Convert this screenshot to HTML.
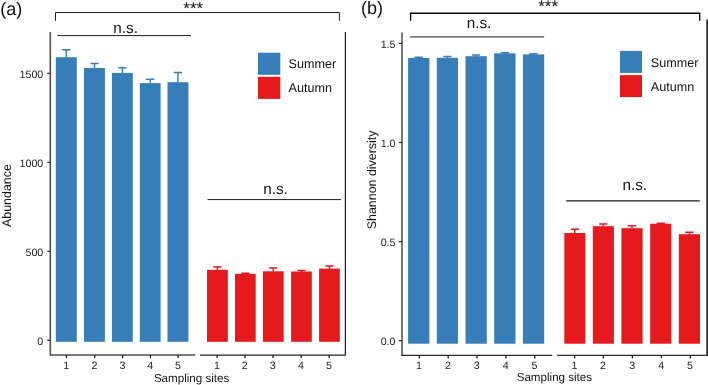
<!DOCTYPE html>
<html><head><meta charset="utf-8"><title>Figure</title>
<style>
html,body{margin:0;padding:0;background:#fff;}
svg{display:block;will-change:transform}
text{font-family:"Liberation Sans",Arial,sans-serif;fill:#111;text-rendering:geometricPrecision}
.tk{font-size:10.7px;fill:#222}
.tt{font-size:12.45px}
.tx{font-size:11.6px}
.ns{font-size:15.3px}
.st{font-size:17px}
.pl{font-size:18px}
.lg{font-size:12.6px}
</style></head><body>
<svg width="708" height="385" viewBox="0 0 708 385">
<rect width="708" height="385" fill="#fff"/>
<rect x="55.8" y="57.2" width="21.0" height="284.6" fill="#377EB8"/>
<path d="M66.3 57.7V49.7M62.2 49.7H70.4" stroke="#377EB8" stroke-width="1.5" fill="none"/>
<rect x="84.0" y="68.0" width="20.9" height="273.8" fill="#377EB8"/>
<path d="M94.5 68.5V63.4M90.4 63.4H98.5" stroke="#377EB8" stroke-width="1.5" fill="none"/>
<rect x="111.9" y="72.9" width="20.9" height="268.9" fill="#377EB8"/>
<path d="M122.4 73.4V67.7M118.3 67.7H126.5" stroke="#377EB8" stroke-width="1.5" fill="none"/>
<rect x="139.8" y="83.1" width="20.8" height="258.7" fill="#377EB8"/>
<path d="M150.2 83.6V79.3M146.1 79.3H154.3" stroke="#377EB8" stroke-width="1.5" fill="none"/>
<rect x="167.5" y="82.2" width="20.9" height="259.6" fill="#377EB8"/>
<path d="M177.9 82.7V72.5M173.8 72.5H182.0" stroke="#377EB8" stroke-width="1.5" fill="none"/>
<rect x="207.0" y="269.8" width="20.8" height="72.0" fill="#E41A1C"/>
<path d="M217.4 270.3V267.1M213.3 267.1H221.5" stroke="#E41A1C" stroke-width="1.5" fill="none"/>
<rect x="235.0" y="273.9" width="20.7" height="67.9" fill="#E41A1C"/>
<path d="M245.3 274.4V273.2M241.2 273.2H249.4" stroke="#E41A1C" stroke-width="1.5" fill="none"/>
<rect x="262.9" y="271.3" width="20.8" height="70.5" fill="#E41A1C"/>
<path d="M273.3 271.8V268.1M269.2 268.1H277.4" stroke="#E41A1C" stroke-width="1.5" fill="none"/>
<rect x="291.1" y="271.5" width="20.7" height="70.3" fill="#E41A1C"/>
<path d="M301.5 272.0V270.5M297.4 270.5H305.6" stroke="#E41A1C" stroke-width="1.5" fill="none"/>
<rect x="319.1" y="268.6" width="20.7" height="73.2" fill="#E41A1C"/>
<path d="M329.5 269.1V266.0M325.4 266.0H333.6" stroke="#E41A1C" stroke-width="1.5" fill="none"/>
<rect x="408.1" y="58.0" width="21.3" height="285.7" fill="#377EB8"/>
<path d="M418.8 58.5V57.3M414.6 57.3H422.9" stroke="#377EB8" stroke-width="1.5" fill="none"/>
<rect x="436.8" y="57.8" width="21.2" height="285.9" fill="#377EB8"/>
<path d="M447.4 58.3V56.4M443.3 56.4H451.5" stroke="#377EB8" stroke-width="1.5" fill="none"/>
<rect x="465.5" y="56.2" width="21.3" height="287.5" fill="#377EB8"/>
<path d="M476.1 56.7V55.1M472.0 55.1H480.2" stroke="#377EB8" stroke-width="1.5" fill="none"/>
<rect x="494.2" y="53.3" width="21.3" height="290.4" fill="#377EB8"/>
<path d="M504.9 53.8V52.8M500.8 52.8H509.0" stroke="#377EB8" stroke-width="1.5" fill="none"/>
<rect x="522.9" y="54.4" width="21.3" height="289.3" fill="#377EB8"/>
<path d="M533.5 54.9V53.8M529.4 53.8H537.6" stroke="#377EB8" stroke-width="1.5" fill="none"/>
<rect x="564.3" y="233.0" width="21.1" height="110.7" fill="#E41A1C"/>
<path d="M574.8 233.5V229.3M570.7 229.3H578.9" stroke="#E41A1C" stroke-width="1.5" fill="none"/>
<rect x="592.8" y="226.2" width="21.1" height="117.5" fill="#E41A1C"/>
<path d="M603.3 226.7V224.1M599.2 224.1H607.4" stroke="#E41A1C" stroke-width="1.5" fill="none"/>
<rect x="621.4" y="228.2" width="21.2" height="115.5" fill="#E41A1C"/>
<path d="M632.0 228.7V225.8M627.9 225.8H636.1" stroke="#E41A1C" stroke-width="1.5" fill="none"/>
<rect x="650.2" y="223.7" width="21.1" height="120.0" fill="#E41A1C"/>
<path d="M660.8 224.2V223.2M656.6 223.2H664.9" stroke="#E41A1C" stroke-width="1.5" fill="none"/>
<rect x="678.8" y="234.2" width="21.2" height="109.5" fill="#E41A1C"/>
<path d="M689.4 234.7V232.3M685.3 232.3H693.5" stroke="#E41A1C" stroke-width="1.5" fill="none"/>
<path d="M50.3 32V355H195.3" stroke="#505050" stroke-width="1.6" fill="none"/>
<path d="M200 355.2H345.4V32" stroke="#222" stroke-width="1.25" fill="none"/>
<path d="M47.3 340.3H50.3" stroke="#222" stroke-width="1.2"/>
<text x="43.3" y="344.9" text-anchor="end" class="tk">0</text>
<path d="M47.3 251.3H50.3" stroke="#222" stroke-width="1.2"/>
<text x="43.3" y="255.9" text-anchor="end" class="tk">500</text>
<path d="M47.3 162.3H50.3" stroke="#222" stroke-width="1.2"/>
<text x="43.3" y="166.9" text-anchor="end" class="tk">1000</text>
<path d="M47.3 73.3H50.3" stroke="#222" stroke-width="1.2"/>
<text x="43.3" y="77.9" text-anchor="end" class="tk">1500</text>
<path d="M66.5 355V358.1" stroke="#1a1a1a" stroke-width="1.3"/>
<text x="66.3" y="369.2" text-anchor="middle" class="tk">1</text>
<path d="M94.7 355V358.1" stroke="#1a1a1a" stroke-width="1.3"/>
<text x="94.5" y="369.2" text-anchor="middle" class="tk">2</text>
<path d="M122.6 355V358.1" stroke="#1a1a1a" stroke-width="1.3"/>
<text x="122.4" y="369.2" text-anchor="middle" class="tk">3</text>
<path d="M150.4 355V358.1" stroke="#1a1a1a" stroke-width="1.3"/>
<text x="150.2" y="369.2" text-anchor="middle" class="tk">4</text>
<path d="M178.1 355V358.1" stroke="#1a1a1a" stroke-width="1.3"/>
<text x="177.9" y="369.2" text-anchor="middle" class="tk">5</text>
<path d="M217.1 355V358.1" stroke="#1a1a1a" stroke-width="1.3"/>
<text x="216.9" y="369.2" text-anchor="middle" class="tk">1</text>
<path d="M245.0 355V358.1" stroke="#1a1a1a" stroke-width="1.3"/>
<text x="244.8" y="369.2" text-anchor="middle" class="tk">2</text>
<path d="M273.0 355V358.1" stroke="#1a1a1a" stroke-width="1.3"/>
<text x="272.8" y="369.2" text-anchor="middle" class="tk">3</text>
<path d="M301.2 355V358.1" stroke="#1a1a1a" stroke-width="1.3"/>
<text x="301.0" y="369.2" text-anchor="middle" class="tk">4</text>
<path d="M329.2 355V358.1" stroke="#1a1a1a" stroke-width="1.3"/>
<text x="329.0" y="369.2" text-anchor="middle" class="tk">5</text>
<text x="191.6" y="381.8" text-anchor="middle" class="tx">Sampling sites</text>
<text transform="translate(11.4 195.6) rotate(-90)" text-anchor="middle" class="tt">Abundance</text>
<path d="M402 32.4V355.4" stroke="#4a4a4a" stroke-width="1.5" fill="none"/>
<path d="M401.3 355.4H552.2M557.2 355.4H707" stroke="#2a2a2a" stroke-width="1.3" fill="none"/>
<path d="M707.2 19.5V356" stroke="#2a2a2a" stroke-width="1.8"/>
<path d="M398.8 340.7H402" stroke="#222" stroke-width="1.2"/>
<text x="395.5" y="345.4" text-anchor="end" class="tk">0.0</text>
<path d="M398.8 241.6H402" stroke="#222" stroke-width="1.2"/>
<text x="395.5" y="246.3" text-anchor="end" class="tk">0.5</text>
<path d="M398.8 142.5H402" stroke="#222" stroke-width="1.2"/>
<text x="395.5" y="147.2" text-anchor="end" class="tk">1.0</text>
<path d="M398.8 43.4H402" stroke="#222" stroke-width="1.2"/>
<text x="395.5" y="48.1" text-anchor="end" class="tk">1.5</text>
<path d="M419.3 355.4V358.4" stroke="#1a1a1a" stroke-width="1.3"/>
<text x="419.1" y="369.2" text-anchor="middle" class="tk">1</text>
<path d="M448.2 355.4V358.4" stroke="#1a1a1a" stroke-width="1.3"/>
<text x="448.0" y="369.2" text-anchor="middle" class="tk">2</text>
<path d="M477.0 355.4V358.4" stroke="#1a1a1a" stroke-width="1.3"/>
<text x="476.8" y="369.2" text-anchor="middle" class="tk">3</text>
<path d="M505.9 355.4V358.4" stroke="#1a1a1a" stroke-width="1.3"/>
<text x="505.7" y="369.2" text-anchor="middle" class="tk">4</text>
<path d="M534.8 355.4V358.4" stroke="#1a1a1a" stroke-width="1.3"/>
<text x="534.6" y="369.2" text-anchor="middle" class="tk">5</text>
<path d="M574.6 355.4V358.4" stroke="#1a1a1a" stroke-width="1.3"/>
<text x="574.4" y="369.2" text-anchor="middle" class="tk">1</text>
<path d="M603.3 355.4V358.4" stroke="#1a1a1a" stroke-width="1.3"/>
<text x="603.1" y="369.2" text-anchor="middle" class="tk">2</text>
<path d="M632.4 355.4V358.4" stroke="#1a1a1a" stroke-width="1.3"/>
<text x="632.2" y="369.2" text-anchor="middle" class="tk">3</text>
<path d="M661.4 355.4V358.4" stroke="#1a1a1a" stroke-width="1.3"/>
<text x="661.2" y="369.2" text-anchor="middle" class="tk">4</text>
<path d="M690.3 355.4V358.4" stroke="#1a1a1a" stroke-width="1.3"/>
<text x="690.1" y="369.2" text-anchor="middle" class="tk">5</text>
<text x="554.4" y="381.4" text-anchor="middle" class="tx">Sampling sites</text>
<text transform="translate(376.3 179.9) rotate(-90)" text-anchor="middle" class="tt">Shannon diversity</text>
<path d="M55.5 20.8V12.55H339.4V20.8" stroke="#1a1a1a" stroke-width="1" fill="none"/>
<path d="M57.5 35.6H191" stroke="#1a1a1a" stroke-width="1"/>
<path d="M207.5 199.6H341" stroke="#1a1a1a" stroke-width="1"/>
<path d="M410.6 20.8V13.2H699.7V20.8" stroke="#0a0a0a" stroke-width="1.35" fill="none"/>
<path d="M410.2 36.8H544.2" stroke="#444" stroke-width="1.3"/>
<path d="M566.2 200.8H699.8" stroke="#1a1a1a" stroke-width="1.3"/>
<text x="125.7" y="32.7" text-anchor="middle" class="ns">n.s.</text>
<text x="275.5" y="194.3" text-anchor="middle" class="ns">n.s.</text>
<text x="479" y="28.3" text-anchor="middle" class="ns">n.s.</text>
<text x="634.8" y="190.2" text-anchor="middle" class="ns">n.s.</text>
<text x="193.2" y="13.5" text-anchor="middle" class="st">***</text>
<text x="548.1" y="12.2" text-anchor="middle" class="st">***</text>
<text x="0.2" y="14.8" class="pl">(a)</text>
<text x="361" y="14.1" class="pl">(b)</text>
<rect x="258" y="52.7" width="22.3" height="22.1" fill="#377EB8"/>
<rect x="258" y="76.8" width="22.3" height="22.1" fill="#E41A1C"/>
<text x="288.6" y="68.4" class="lg">Summer</text>
<text x="288.6" y="92.4" class="lg">Autumn</text>
<rect x="620" y="50.9" width="22" height="22" fill="#377EB8"/>
<rect x="620" y="75.1" width="22" height="22" fill="#E41A1C"/>
<text x="650.8" y="66.6" class="lg">Summer</text>
<text x="650.8" y="90.6" class="lg">Autumn</text>
</svg>
</body></html>
